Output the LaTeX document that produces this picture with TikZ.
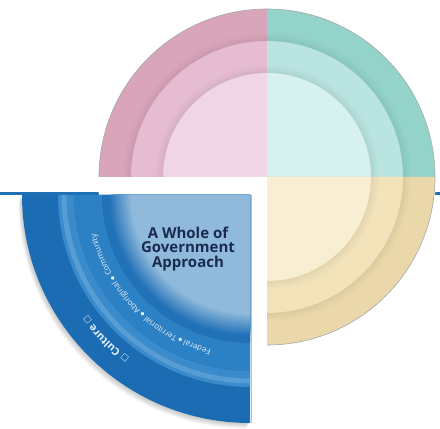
\documentclass[tikz,border=0pt]{standalone}
\usepackage{fontspec}
\newfontfamily\titlefont{Open Sans}
\newfontfamily\bandfont{Open Sans}
\newfontfamily\dvs{DejaVu Sans}
\usetikzlibrary{decorations.text,calc}
\definecolor{pinkO}{HTML}{D9A5BA}
\definecolor{pinkM}{HTML}{E6BCD2}
\definecolor{pinkI}{HTML}{F0D5E6}
\definecolor{tealO}{HTML}{93D3CA}
\definecolor{tealM}{HTML}{B9E4E0}
\definecolor{tealI}{HTML}{D7F0F0}
\definecolor{yelO}{HTML}{EBD8AA}
\definecolor{yelM}{HTML}{F2E3BA}
\definecolor{yelI}{HTML}{F8EFD3}
\definecolor{blueO}{HTML}{1C6CB3}
\definecolor{blueR}{HTML}{3A8BCC}
\definecolor{blueT}{HTML}{2C80C4}
\definecolor{blueD}{HTML}{2171B8}
\definecolor{blueI}{HTML}{8FBADB}
\definecolor{navy}{HTML}{1B2A4E}
\definecolor{bandtxt}{HTML}{E6F2FA}
\definecolor{rulecol}{HTML}{2070B5}
\tikzset{
  rule/.style={rulecol, line width=3pt},
  title/.style={align=center, inner sep=0pt, text=navy,
    font=\titlefont\bfseries\fontsize{15}{14.5}\selectfont},
}
\begin{document}
\begin{tikzpicture}[x=1pt,y=1pt]
\useasboundingbox (0,0) rectangle (440,429);
\fill[white] (0,0) rectangle (440,429);
\coordinate (C) at (267,252);
\coordinate (B) at (250,234);
\coordinate (L) at (0,235.5);
\coordinate (R) at (440,235.5);
\draw[rule] (L) -- (R);
\fill[white] (C) circle (169);
% three pastel quadrants
\foreach \a/\o/\m/\n in {90/pinkO/pinkM/pinkI, 0/tealO/tealM/tealI, 270/yelO/yelM/yelI} {
  \begin{scope}
    \clip (C) -- ++(\a:168) arc[start angle=\a, end angle=\a+90, radius=168] -- cycle;
    \fill[\o] (C) circle (168);
    \fill[\m] (C) circle (136);
    \fill[\n] (C) circle (104);
    \foreach \k/\op in {1/0.22,3/0.15,5/0.09,7/0.04} {
      \draw[\o!75!black, opacity=\op, line width=2pt] (C) circle (136+\k);
      \draw[\m!75!black, opacity=\op, line width=2pt] (C) circle (104+\k);
    }
  \end{scope}
  \draw[gray!70, line width=0.6pt] (C) ++(\a:168) arc[start angle=\a, end angle=\a+90, radius=168];
}
% shadow of blue quadrant
\foreach \k in {1,...,6}
  \fill[black, opacity=0.035] ($(B)+(-0.6*\k,-0.9*\k)$) -- ++(180:228) arc[start angle=180, end angle=270, radius=228] -- cycle;
% blue quadrant
\begin{scope}
  \clip (B) -- ++(180:228) arc[start angle=180, end angle=270, radius=228] -- cycle;
  \fill[blueO] (B) circle (228);
  \draw[blueR, line width=16pt] (B) circle (184);
  \draw[blueR!70!white, opacity=0.5, line width=5pt] (B) circle (186);
  \fill[blueT] (B) circle (176);
  \fill[blueD] (B) circle (148);
  \foreach \j [evaluate=\j as \p using int(100-\j*100/22)] in {0,...,22}
    \fill[blueD!\p!blueI] (B) circle (141-\j);
\end{scope}
\draw[black!25, line width=1pt] ($(B)+(1,0)$) -- ($(B)+(1,-228)$);
% band text
\path[decorate, decoration={text along path, text align=center,
  text={|\bandfont\fontsize{8}{8}\selectfont\color{bandtxt}|Federal {\dvs\fontsize{5.5}{5.5}\selectfont ◆} Territorial {\dvs\fontsize{5.5}{5.5}\selectfont ◆} Aboriginal {\dvs\fontsize{5.5}{5.5}\selectfont ◆} Community}}]
  ($(B)+(270:159)$) arc[start angle=270, end angle=180, radius=159];
\path[decorate, decoration={text along path, text align=center,
  text={|\bandfont\bfseries\fontsize{10.5}{10.5}\selectfont\color{bandtxt}|{\dvs\fontsize{8}{8}\selectfont □}  Culture  {\dvs\fontsize{8}{8}\selectfont □}}}]
  ($(B)+(271:203)$) arc[start angle=271, end angle=179, radius=203];
% title
\node[title] (t) at (188,180) {A Whole of\\Government\\Approach};
\end{tikzpicture}
\end{document}
